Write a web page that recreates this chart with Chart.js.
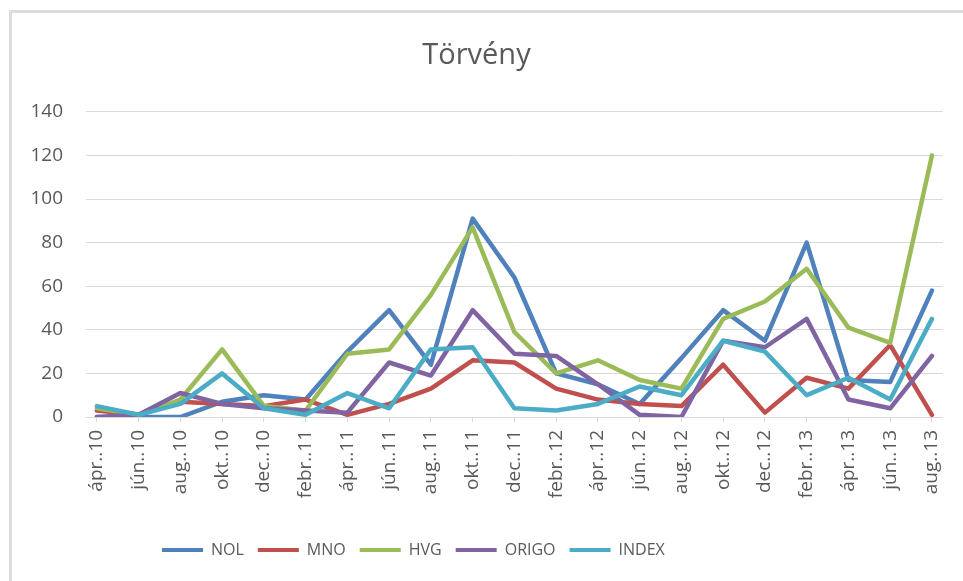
<!DOCTYPE html>
<html>
<head>
<meta charset="utf-8">
<title>Törvény</title>
<script src="https://cdn.jsdelivr.net/npm/chart.js@4/dist/chart.umd.min.js"></script>
<style>
  html, body { margin: 0; padding: 0; background: #fff; overflow: hidden; }
  #wrap { position: relative; width: 963px; height: 581px; }
  #frame { position: absolute; left: 9px; top: 10px; width: 1000px; height: 600px;
           border-top: 3px solid #dcdcdc; border-left: 3px solid #dcdcdc; }
  #chart { position: absolute; left: 0; top: 0; }
</style>
</head>
<body>
<div id="wrap">
  <div id="frame"></div>
  <canvas id="chart" width="963" height="581"></canvas>
</div>
<script>
const months = ["ápr..10", "jún..10", "aug..10", "okt..10", "dec..10", "febr..11", "ápr..11",
  "jún..11", "aug..11", "okt..11", "dec..11", "febr..12", "ápr..12", "jún..12", "aug..12",
  "okt..12", "dec..12", "febr..13", "ápr..13", "jún..13", "aug..13"];

const nol   = [0, 0, 0, 7, 10, 8, 30, 49, 24, 91, 64, 20, 15, 6, 27, 49, 35, 80, 17, 16, 58];
const mno   = [3, 1, 7, 6, 5, 8, 1, 6, 13, 26, 25, 13, 8, 6, 5, 24, 2, 18, 13, 33, 1];
const hvg   = [4, 1, 8, 31, 5, 3, 29, 31, 56, 87, 39, 20, 26, 17, 13, 45, 53, 68, 41, 34, 120];
const origo = [0, 1, 11, 6, 4, 3, 2, 25, 19, 49, 29, 28, 15, 1, 0, 35, 32, 45, 8, 4, 28];
const index = [5, 1, 6, 20, 4, 1, 11, 4, 31, 32, 4, 3, 6, 14, 10, 35, 30, 10, 18, 8, 45];

const yTicks = [0, 20, 40, 60, 80, 100, 120, 140];

const TEXT = "#595959";
const GRID = "#d9d9d9";

function serie(name, values, color, order) {
  return {
    label: name,
    data: values.map((v, i) => ({ x: i, y: v })),
    borderColor: color,
    backgroundColor: color,
    borderWidth: 4.5,
    pointRadius: 0,
    tension: 0,
    borderJoinStyle: "round",
    borderCapStyle: "round",
    order: order
  };
}

// legenda a kép szerint balra tolva
const legendShift = {
  id: "legendShift",
  afterLayout(chart) {
    chart.legend.left = 148;
    chart.legend.right = 963;
  }
};

new Chart(document.getElementById("chart"), {
  type: "line",
  data: {
    datasets: [
      serie("NOL", nol, "#4F81BD", 5),
      serie("MNO", mno, "#C0504D", 4),
      serie("HVG", hvg, "#9BBB59", 3),
      serie("ORIGO", origo, "#8064A2", 2),
      serie("INDEX", index, "#4BACC6", 1)
    ]
  },
  options: {
    responsive: false,
    devicePixelRatio: 1,
    animation: false,
    layout: { padding: { left: 10, right: 20, top: 10, bottom: 13 } },
    plugins: {
      tooltip: { enabled: false },
      title: {
        display: true,
        text: "Törvény",
        color: TEXT,
        font: { family: "'Open Sans'", size: 29, weight: "normal", lineHeight: 1.2 },
        padding: { top: 28, bottom: 39 }
      },
      legend: {
        position: "bottom",
        align: "start",
        labels: {
          boxWidth: 41,
          boxHeight: 4,
          padding: 14,
          color: TEXT,
          font: { family: "'Open Sans'", size: 16 },
          sort: (a, b) => a.datasetIndex - b.datasetIndex,
          generateLabels: (chart) =>
            Chart.defaults.plugins.legend.labels.generateLabels(chart).map(l => ({ ...l, lineWidth: 0 }))
        }
      }
    },
    scales: {
      x: {
        type: "linear",
        min: -0.26,
        max: 20.26,
        afterBuildTicks: (scale) => { scale.ticks = months.map((m, i) => ({ value: i })); },
        afterFit: (scale) => { scale.height = 111; },
        ticks: {
          autoSkip: false,
          minRotation: 90,
          maxRotation: 90,
          padding: 8,
          color: TEXT,
          font: { family: "'Open Sans'", size: 19 },
          callback: (v) => months[v]
        },
        grid: { drawOnChartArea: false, tickLength: 5, color: GRID },
        border: { color: GRID, width: 1 }
      },
      y: {
        min: 0,
        max: 140,
        afterBuildTicks: (scale) => { scale.ticks = yTicks.map(v => ({ value: v })); },
        afterFit: (scale) => { scale.width = 76; },
        ticks: {
          padding: 23,
          color: TEXT,
          font: { family: "'Open Sans'", size: 19 }
        },
        grid: { color: GRID, drawTicks: false },
        border: { display: false }
      }
    }
  },
  plugins: [legendShift]
});
</script>
</body>
</html>
